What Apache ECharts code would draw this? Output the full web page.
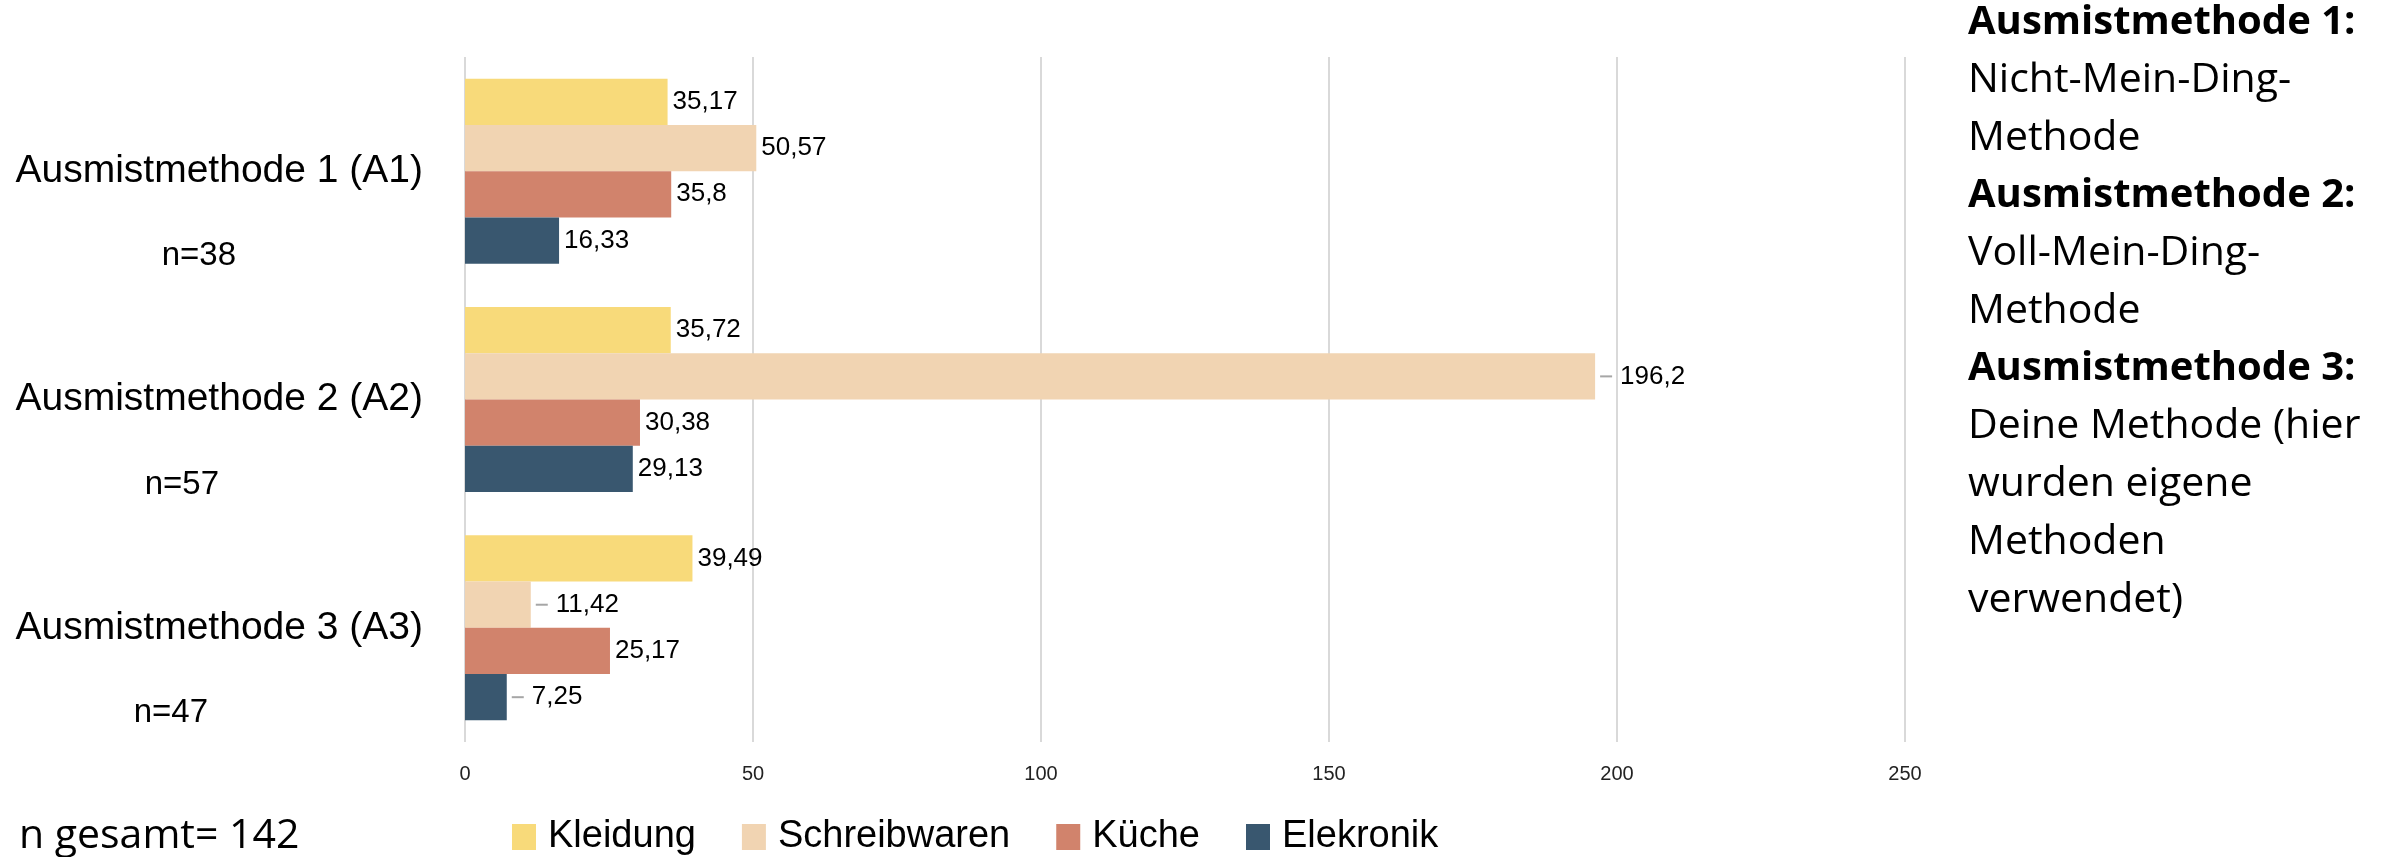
<!DOCTYPE html>
<html>
<head>
<meta charset="utf-8">
<script src="https://cdn.jsdelivr.net/npm/echarts@6/dist/echarts.min.js"></script>
<style>
  html, body { margin: 0; padding: 0; background: #fff; }
  #main { width: 2407px; height: 857px; }
</style>
</head>
<body>
<div id="main"></div>
<script>
// categories (top to bottom) and sample sizes
var categories = ['Ausmistmethode 1 (A1)', 'Ausmistmethode 2 (A2)', 'Ausmistmethode 3 (A3)'];
var sampleSizes = [38, 57, 47];

// series values per category
var seriesNames = ['Kleidung', 'Schreibwaren', 'Küche', 'Elekronik'];
var kleidung = [35.17, 35.72, 39.49];
var schreibwaren = [50.57, 196.2, 11.42];
var kueche = [35.8, 30.38, 25.17];
var elekronik = [16.33, 29.13, 7.25];

var xTicks = [0, 50, 100, 150, 200, 250];

// labels drawn with a small leader line: [seriesIndex, dataIndex]
var leaderLabels = [[1, 1], [1, 2], [3, 2]];

// note block on the right
var notes = [
  ['b', 'Ausmistmethode 1:'],
  ['r', 'Nicht-Mein-Ding-'],
  ['r', 'Methode'],
  ['b', 'Ausmistmethode 2:'],
  ['r', 'Voll-Mein-Ding-'],
  ['r', 'Methode'],
  ['b', 'Ausmistmethode 3:'],
  ['r', 'Deine Methode (hier'],
  ['r', 'wurden eigene'],
  ['r', 'Methoden'],
  ['r', 'verwendet)']
];

var colors = ['#F8DA7A', '#F1D4B2', '#D1836C', '#39576F'];
var seriesData = [kleidung, schreibwaren, kueche, elekronik];

function fmt(v) { return String(v).replace('.', ','); }
function hasLeader(si, di) {
  return leaderLabels.some(function (p) { return p[0] === si && p[1] === di; });
}

// right padding so the n= line sits left of the category label
var nPad = [187, 204, 215];
var yRich = {
  s: { fontSize: 10, lineHeight: 120 },
  a: { fontSize: 39, lineHeight: 50, color: '#000' }
};
sampleSizes.forEach(function (n, i) {
  yRich['n' + i] = { fontSize: 33, lineHeight: 120, color: '#000', padding: [0, nPad[i], 0, 0] };
});

var myChart = echarts.init(document.getElementById('main'));

var series = seriesData.map(function (vals, si) {
  return {
    name: seriesNames[si],
    type: 'bar',
    data: vals,
    barGap: '0%',
    barCategoryGap: '19%',
    itemStyle: { color: colors[si] },
    label: {
      show: true,
      position: 'right',
      distance: 5,
      color: '#000',
      fontSize: 26,
      formatter: function (p) {
        if (hasLeader(si, p.dataIndex)) {
          return '{l|}{v|' + fmt(p.value) + '}';
        }
        return fmt(p.value);
      },
      rich: {
        l: { width: 12, height: 2, backgroundColor: '#a6a6a6' },
        v: { fontSize: 26, color: '#000', padding: [0, 0, 0, 8] }
      }
    }
  };
});

var total = sampleSizes.reduce(function (a, b) { return a + b; }, 0);

myChart.setOption({
  animation: false,
  textStyle: { fontFamily: 'Liberation Sans' },
  grid: { left: 465, right: 502, top: 57, bottom: 115, containLabel: false },
  xAxis: {
    type: 'value',
    min: xTicks[0],
    max: xTicks[xTicks.length - 1],
    interval: 50,
    axisLine: { show: false },
    axisTick: { show: false },
    axisLabel: { fontSize: 20, color: '#222', margin: 22 },
    splitLine: { lineStyle: { color: '#d9d9d9', width: 2 } }
  },
  yAxis: {
    type: 'category',
    data: categories,
    inverse: true,
    axisLine: { show: false },
    axisTick: { show: false },
    axisLabel: {
      margin: 42,
      interval: 0,
      formatter: function (v, i) {
        return '{s| }\n{a|' + v + '}\n{n' + i + '|n=' + sampleSizes[i] + '}';
      },
      rich: yRich
    }
  },
  legend: {
    left: 512,
    top: 818,
    padding: 0,
    itemWidth: 24,
    itemHeight: 26,
    itemGap: 46,
    icon: 'rect',
    textStyle: { fontSize: 38, color: '#000', padding: [0, 0, 0, 7] },
    data: seriesNames
  },
  graphic: [
    {
      type: 'text',
      x: 19,
      y: 836,
      style: {
        text: 'n gesamt= ' + total,
        fontFamily: 'Open Sans',
        fontSize: 41,
        fill: '#000',
        verticalAlign: 'middle'
      }
    },
    {
      type: 'text',
      x: 1968,
      y: -6,
      style: {
        text: notes.map(function (n) { return '{' + n[0] + '|' + n[1] + '}'; }).join('\n'),
        fill: '#000',
        rich: {
          b: { fontFamily: 'Open Sans', fontWeight: 'bold', fontSize: 40, lineHeight: 57.7, fill: '#000' },
          r: { fontFamily: 'Open Sans', fontSize: 41, lineHeight: 57.7, fill: '#000' }
        }
      }
    }
  ],
  series: series
});
</script>
</body>
</html>
